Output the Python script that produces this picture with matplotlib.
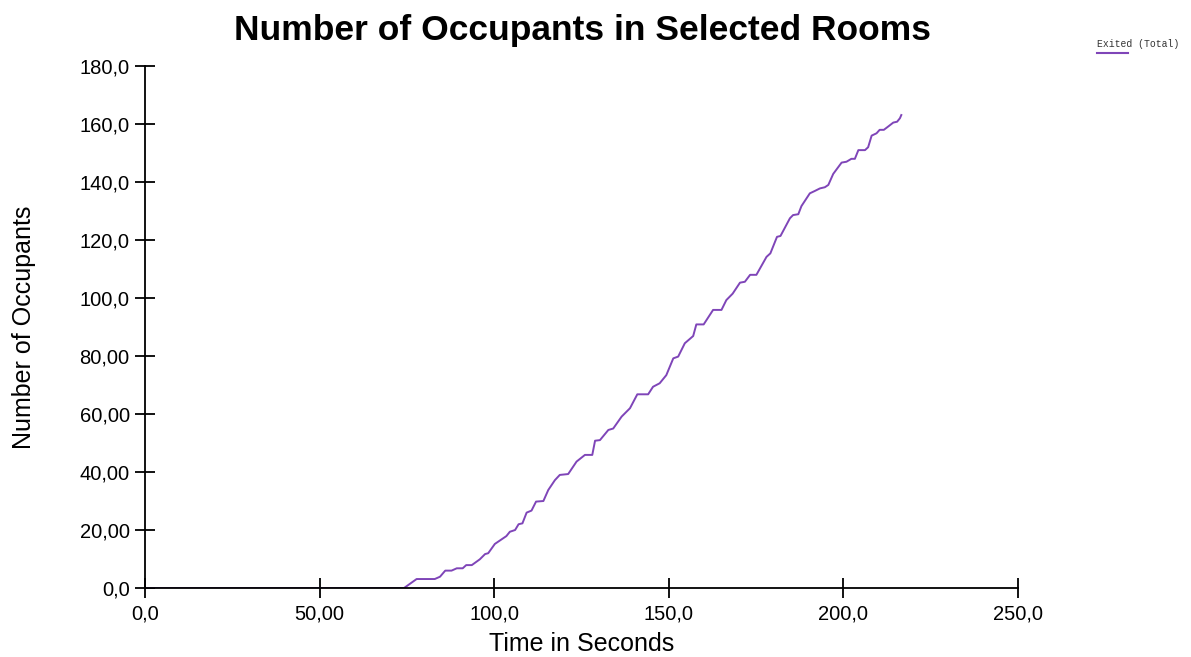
import matplotlib.pyplot as plt
from matplotlib.lines import Line2D

# Exited (Total) occupants over time
times = [0, 74.2, 77.8, 83.0, 84.5, 86.0, 87.8, 89.3, 91.0, 92.0, 93.6,
         95.9, 97.4, 98.3, 100.2, 103.5, 104.5, 106.0, 107.0, 108.1, 109.3,
         110.7, 112.0, 114.1, 115.5, 117.4, 118.8, 121.2, 123.6, 126.0, 128.1,
         128.9, 130.3, 132.7, 134.1, 136.5, 138.9, 141.0, 144.1, 145.5, 147.4,
         149.3, 151.3, 152.7, 154.6, 157.0, 157.9, 160.0, 162.7, 165.1, 166.5,
         168.3, 170.4, 171.8, 173.3, 175.1, 178.0, 179.1, 181.0, 182.0, 184.7,
         185.6, 187.1, 188.0, 190.4, 191.8, 193.3, 194.7, 195.7, 197.1, 199.5,
         200.9, 202.3, 203.3, 204.3, 206.2, 207.1, 208.1, 209.5, 210.4, 211.6,
         212.8, 214.3, 215.4, 216.2, 216.6]
exited = [0, 0, 3.1, 3.1, 3.9, 6.0, 6.0, 6.8, 6.8, 7.9, 7.9,
          9.9, 11.7, 12.0, 15.2, 17.9, 19.4, 20.0, 22.0, 22.3, 26.0,
          26.7, 29.8, 30.0, 33.8, 37.2, 39.0, 39.3, 43.6, 45.9, 45.9,
          50.8, 51.0, 54.5, 55.0, 59.1, 62.0, 66.8, 66.8, 69.4, 70.6,
          73.4, 79.2, 79.8, 84.4, 86.9, 90.9, 90.9, 95.9, 95.9, 99.3,
          101.5, 105.3, 105.6, 108.0, 108.0, 114.2, 115.4, 121.1, 121.4, 127.5,
          128.6, 128.9, 131.7, 136.1, 136.9, 137.8, 138.2, 139.0, 142.8, 146.7,
          147.0, 148.0, 148.0, 151.0, 151.0, 152.0, 156.0, 156.8, 158.0, 158.0,
          159.1, 160.5, 160.8, 162.0, 163.1]

xticks = [0, 50, 100, 150, 200, 250]
xtick_labels = ['0,0', '50,00', '100,0', '150,0', '200,0', '250,0']
yticks = [0, 20, 40, 60, 80, 100, 120, 140, 160, 180]
ytick_labels = ['0,0', '20,00', '40,00', '60,00', '80,00', '100,0',
                '120,0', '140,0', '160,0', '180,0']

line_color = '#7f45b8'

plt.rcParams['font.family'] = ['Liberation Sans', 'DejaVu Sans']

fig = plt.figure(figsize=(11.91, 6.57), dpi=100)
ax = fig.add_axes([0.1217, 0.1050, 0.7330, 0.7945])

ax.plot(times, exited, color=line_color, lw=1.4)

ax.set_xlim(0, 250)
ax.set_ylim(0, 180)
ax.set_xticks(xticks)
ax.set_xticklabels(xtick_labels)
ax.set_yticks(yticks)
ax.set_yticklabels(ytick_labels)
ax.tick_params(direction='inout', length=14, width=1.3, labelsize=14.5)
ax.tick_params(axis='y', pad=4)
ax.tick_params(axis='x', pad=5)

ax.spines['top'].set_visible(False)
ax.spines['right'].set_visible(False)
ax.spines['left'].set_linewidth(1.3)
ax.spines['bottom'].set_linewidth(1.3)

ax.set_xlabel('Time in Seconds', fontsize=18)
ax.set_ylabel('Number of Occupants', fontsize=18)
ax.xaxis.set_label_coords(0.5, -0.084)
ax.yaxis.set_label_coords(-0.125, 0.5)

fig.text(0.489, 0.953, 'Number of Occupants in Selected Rooms',
         ha='center', va='center', fontsize=25.5, fontweight='bold')

# legend entry in the top-right corner
fig.text(0.921, 0.933, 'Exited (Total)', family='Liberation Mono',
         fontsize=7, color='#333333', ha='left', va='center')
fig.add_artist(Line2D([0.921, 0.947], [0.919, 0.919], color=line_color,
                      lw=1.5, transform=fig.transFigure))

fig.savefig('out.png', dpi=100)
